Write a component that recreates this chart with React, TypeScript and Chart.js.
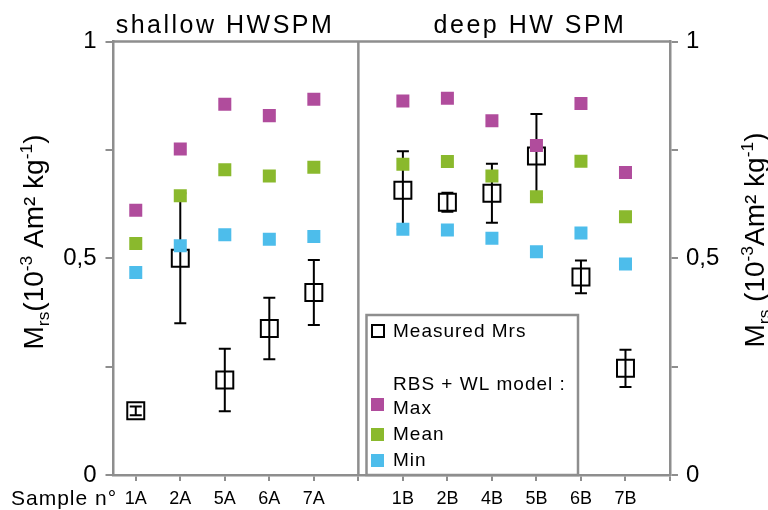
import React, { useEffect, useRef } from "react";
import { Chart, registerables } from "chart.js";

Chart.register(...registerables);

const FONT = "'Liberation Sans', Arial, sans-serif";
const GRAY = "#8e8e8e";

const categories = ["1A", "2A", "5A", "6A", "7A", "", "1B", "2B", "4B", "5B", "6B", "7B"];
const maxVals = [0.611, 0.752, 0.855, 0.829, 0.867, null, 0.863, 0.869, 0.817, 0.76, 0.857, 0.698];
const meanVals = [0.534, 0.644, 0.704, 0.69, 0.71, null, 0.717, 0.723, 0.69, 0.642, 0.724, 0.596];
const minVals = [0.467, 0.529, 0.554, 0.544, 0.55, null, 0.567, 0.565, 0.546, 0.515, 0.558, 0.487];
const measuredVals = [0.148, 0.5, 0.219, 0.338, 0.421, null, 0.657, 0.629, 0.65, 0.736, 0.457, 0.246];
const measuredErr = [0.01, 0.15, 0.072, 0.071, 0.075, null, 0.09, 0.022, 0.068, 0.097, 0.038, 0.043];
const yTickLabels: Record<string, string> = { "0": "0", "0.5": "0,5", "1": "1" };
const panelTitles = ["shallow HWSPM", "deep HW SPM"];
const dividerIndex = 5;

const toPoints = (arr: (number | null)[]) =>
  arr.map((v, i) => (v === null ? null : { x: i, y: v })).filter((p) => p !== null);

type Part = [string, "n" | "sub" | "sup"];

function drawRich(ctx: CanvasRenderingContext2D, parts: Part[], size: number, bx: number, cy: number) {
  ctx.save();
  ctx.translate(bx, cy);
  ctx.rotate(-Math.PI / 2);
  ctx.fillStyle = "#000";
  ctx.textBaseline = "alphabetic";
  ctx.textAlign = "left";
  const sizes = parts.map(([, k]) => (k === "n" ? size : size * 0.62));
  const widths = parts.map(([t], i) => {
    ctx.font = `${sizes[i]}px ${FONT}`;
    return ctx.measureText(t).width;
  });
  const total = widths.reduce((a, b) => a + b, 0);
  let x = -total / 2;
  parts.forEach(([t, k], i) => {
    ctx.font = `${sizes[i]}px ${FONT}`;
    const dy = k === "sub" ? size * 0.2 : k === "sup" ? -size * 0.4 : 0;
    ctx.fillText(t, x, dy);
    x += widths[i];
  });
  ctx.restore();
}

const errorBarsPlugin = {
  id: "errorBars",
  beforeDatasetsDraw(chart: any) {
    const { ctx, chartArea } = chart;
    const xs = chart.scales.x;
    const ys = chart.scales.y;
    ctx.save();
    // top border and panel divider
    ctx.strokeStyle = GRAY;
    ctx.lineWidth = 2.5;
    ctx.beginPath();
    ctx.moveTo(chartArea.left, chartArea.top);
    ctx.lineTo(chartArea.right, chartArea.top);
    const dx = xs.getPixelForValue(dividerIndex);
    ctx.moveTo(dx, chartArea.top);
    ctx.lineTo(dx, chartArea.bottom);
    ctx.stroke();
    // error bars
    ctx.strokeStyle = "#000";
    ctx.lineWidth = 2;
    measuredVals.forEach((m, i) => {
      const e = measuredErr[i];
      if (m === null || e === null) return;
      const x = xs.getPixelForValue(i);
      const y1 = ys.getPixelForValue(m + e);
      const y2 = ys.getPixelForValue(m - e);
      ctx.beginPath();
      ctx.moveTo(x, y1);
      ctx.lineTo(x, y2);
      ctx.moveTo(x - 6, y1);
      ctx.lineTo(x + 6, y1);
      ctx.moveTo(x - 6, y2);
      ctx.lineTo(x + 6, y2);
      ctx.stroke();
    });
    ctx.restore();
  },
  afterDraw(chart: any) {
    const { ctx } = chart;
    ctx.save();
    ctx.fillStyle = "#000";
    // panel titles
    ctx.font = `25px ${FONT}`;
    (ctx as any).letterSpacing = "2.5px";
    ctx.textAlign = "center";
    ctx.textBaseline = "alphabetic";
    ctx.fillText(panelTitles[0], 225, 33);
    ctx.fillText(panelTitles[1], 530, 33);
    // Sample n°
    ctx.font = `21px ${FONT}`;
    (ctx as any).letterSpacing = "1px";
    ctx.textAlign = "left";
    ctx.fillText("Sample n°", 11, 505);
    (ctx as any).letterSpacing = "0px";
    // axis titles
    drawRich(
      ctx,
      [["M", "n"], ["rs", "sub"], ["(10", "n"], ["-3", "sup"], [" Am² kg", "n"], ["-1", "sup"], [")", "n"]],
      28,
      43,
      242
    );
    drawRich(
      ctx,
      [["M", "n"], ["rs", "sub"], [" (10", "n"], ["-3", "sup"], ["Am² kg", "n"], ["-1", "sup"], [")", "n"]],
      28,
      764,
      240
    );
    // legend box
    const lx = 366.5, ly = 315, lw = 211.5, lh = 160;
    ctx.fillStyle = "#fff";
    ctx.fillRect(lx, ly, lw, lh);
    ctx.strokeStyle = GRAY;
    ctx.lineWidth = 2.5;
    ctx.strokeRect(lx, ly, lw, lh);
    ctx.strokeStyle = "#000";
    ctx.lineWidth = 2;
    ctx.strokeRect(372, 325, 12, 12);
    const sq: [string, number][] = [["#B04C9C", 398], ["#8AB92D", 428], ["#4DBDEB", 454]];
    sq.forEach(([c, y]) => {
      ctx.fillStyle = c;
      ctx.fillRect(371, y, 13, 13);
    });
    ctx.fillStyle = "#000";
    ctx.font = `19px ${FONT}`;
    (ctx as any).letterSpacing = "1px";
    ctx.textAlign = "left";
    ctx.fillText("Measured Mrs", 393, 337);
    ctx.fillText("RBS + WL model :", 393, 390);
    ctx.fillText("Max", 393, 414);
    ctx.fillText("Mean", 393, 440);
    ctx.fillText("Min", 393, 466);
    (ctx as any).letterSpacing = "0px";
    ctx.restore();
  },
};

export default function App() {
  const ref = useRef<HTMLCanvasElement>(null);
  useEffect(() => {
    if (!ref.current) return;
    const yAxisCommon = (width: number, position: "left" | "right", pad: number) => ({
      type: "linear" as const,
      position,
      min: 0,
      max: 1,
      ticks: {
        stepSize: 0.25,
        color: "#000",
        font: { family: FONT, size: 24 },
        padding: pad,
        callback: (v: any) => yTickLabels[String(v)] ?? "",
      },
      grid: { drawOnChartArea: false, drawTicks: true, tickLength: 8, color: GRAY, lineWidth: 2 },
      border: { display: true, color: GRAY, width: 2.5 },
      afterFit: (s: any) => {
        s.width = width;
      },
    });
    const chart = new Chart(ref.current, {
      type: "scatter",
      data: {
        datasets: [
          {
            label: "Max",
            data: toPoints(maxVals) as any,
            pointStyle: "rect",
            pointRadius: 9.2,
            backgroundColor: "#B04C9C",
            borderColor: "#B04C9C",
            borderWidth: 0,
            yAxisID: "y",
          },
          {
            label: "Mean",
            data: toPoints(meanVals) as any,
            pointStyle: "rect",
            pointRadius: 9.2,
            backgroundColor: "#8AB92D",
            borderColor: "#8AB92D",
            borderWidth: 0,
            yAxisID: "y",
          },
          {
            label: "Min",
            data: toPoints(minVals) as any,
            pointStyle: "rect",
            pointRadius: 9.2,
            backgroundColor: "#4DBDEB",
            borderColor: "#4DBDEB",
            borderWidth: 0,
            yAxisID: "y",
          },
          {
            label: "Measured Mrs",
            data: toPoints(measuredVals) as any,
            pointStyle: "rect",
            pointRadius: 12,
            backgroundColor: "rgba(0,0,0,0)",
            borderColor: "#000",
            borderWidth: 2,
            yAxisID: "y",
          },
        ],
      },
      options: {
        responsive: false,
        animation: false,
        devicePixelRatio: 1,
        layout: { padding: { top: 41.5, left: 0, right: 0, bottom: 0 } },
        plugins: { legend: { display: false }, tooltip: { enabled: false }, title: { display: false } },
        scales: {
          x: {
            type: "linear",
            position: "bottom",
            min: -0.5,
            max: 12,
            afterBuildTicks: (s: any) => {
              s.ticks = Array.from({ length: 13 }, (_, i) => ({ value: i }));
            },
            ticks: {
              autoSkip: false,
              maxRotation: 0,
              color: "#000",
              font: { family: FONT, size: 18 },
              padding: 7,
              callback: (v: any) => categories[v] ?? "",
            },
            grid: { drawOnChartArea: false, drawTicks: true, tickLength: 6, color: GRAY, lineWidth: 2 },
            border: { display: true, color: GRAY, width: 2.5 },
            afterFit: (s: any) => {
              s.height = 35;
            },
          },
          y: yAxisCommon(113.5, "left", 9),
          y2: yAxisCommon(98, "right", 8),
        },
      },
      plugins: [errorBarsPlugin],
    });
    return () => chart.destroy();
  }, []);
  return (
    <div style={{ position: "fixed", left: 0, top: 0, width: 768, height: 510, background: "#fff" }}>
      <canvas ref={ref} width={768} height={510} style={{ display: "block" }} />
    </div>
  );
}
